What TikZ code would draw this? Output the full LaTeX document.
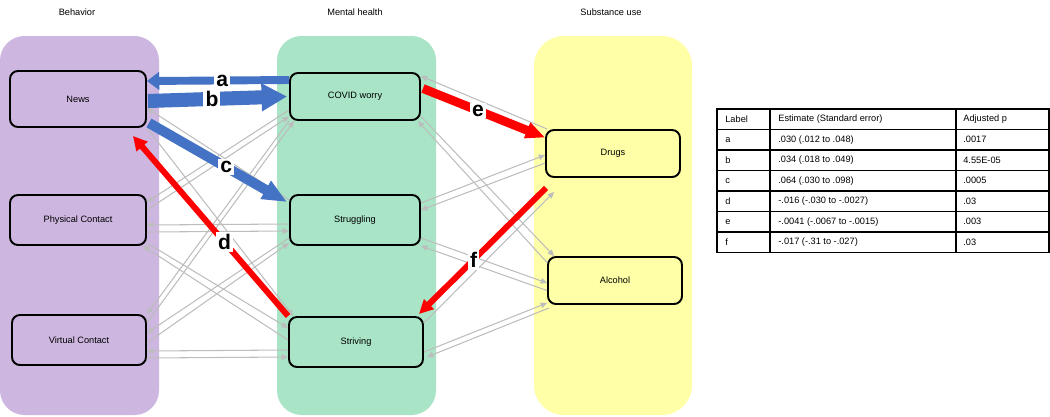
\documentclass[tikz,border=0pt]{standalone}
\usepackage{fontspec}
\setmainfont{Liberation Sans}
\usetikzlibrary{arrows.meta,calc}

\definecolor{behav}{HTML}{CDB6DF}
\definecolor{mental}{HTML}{A8E4C5}
\definecolor{subst}{HTML}{FFFFA8}
\definecolor{effblue}{HTML}{4472C4}
\definecolor{effred}{HTML}{FF0000}
\definecolor{linkgray}{HTML}{BDBDBD}

\tikzset{
  box/.style={draw, line width=1.1pt, rounded corners=4.5pt, inner sep=0pt,
    font=\fontsize{5.25}{6}\selectfont},
  head/.style={font=\fontsize{5.25}{6}\selectfont, inner sep=0pt},
  link/.style={draw=linkgray, line width=0.6pt, -{Triangle[length=3.6pt,width=3.2pt]}},
  lbl/.style={fill=white, text=black, inner sep=1.2pt, font=\fontsize{12}{14}\selectfont\bfseries},
  cell/.style={anchor=west, inner sep=0pt, font=\fontsize{5.25}{6}\selectfont}
}

\begin{document}
\begin{tikzpicture}[x=0.02cm,y=-0.02cm]
\useasboundingbox (0,0) rectangle (1050,416);

% columns
\fill[behav, rounded corners=14pt] (0,36) rectangle (159,415);
\fill[mental, rounded corners=14pt] (277,36) rectangle (436,415);
\fill[subst, rounded corners=17pt] (534,36) rectangle (692,415);
\node[head] (tbeh) at (77,12) {Behavior};
\node[head] (tmen) at (355,12) {Mental health};
\node[head] (tsub) at (611,12) {Substance use};

\node[box, fill=behav, minimum width=2.72cm, minimum height=1.12cm] (news) at (78,99) {News};
\node[box, fill=behav, minimum width=2.72cm, minimum height=1cm] (phys) at (78,220) {Physical Contact};
\node[box, fill=behav, minimum width=2.68cm, minimum height=1cm] (virt) at (79,340) {Virtual Contact};
\node[box, fill=mental, minimum width=2.6cm, minimum height=0.94cm] (covid) at (355,96.5) {COVID worry};
\node[box, fill=mental, minimum width=2.6cm, minimum height=1cm] (strug) at (355,220) {Struggling};
\node[box, fill=mental, minimum width=2.68cm, minimum height=1cm] (striv) at (356,342) {Striving};
\node[box, fill=subst, minimum width=2.68cm, minimum height=0.94cm] (drugs) at (613,153.5) {Drugs};
\node[box, fill=subst, minimum width=2.68cm, minimum height=0.94cm] (alco) at (615,280.5) {Alcohol};

% non significant paths
\draw[link] ($(strug.west)+(0,-20)$) -- ($(news.east)+(0,9)$);
\draw[link] (news.south east) -- ($(striv.north west)+(5,0)$);
\draw[link] ($(covid.west)+(0,13.5)$) -- ($(phys.east)+(0,-18)$);
\draw[link] ($(phys.east)+(0,-10)$) -- ($(covid.west)+(0,20)$);
\draw[link] (covid.south west) -- (virt.north east);
\draw[link] ($(virt.east)+(0,-17)$) -- ($(covid.south west)+(5,0)$);
\draw[link] ($(strug.west)+(0,18)$) -- ($(virt.east)+(0,-7)$);
\draw[link] ($(virt.east)+(0,3)$) -- ($(strug.west)+(0,23)$);
\draw[link] ($(striv.west)+(0,-2)$) -- ($(phys.south east)+(-4,0)$);
\draw[link] ($(phys.east)+(0,23)$) -- ($(striv.west)+(0,-14)$);
\draw[link] ($(strug.west)+(0,4)$) -- ($(phys.east)+(0,5)$);
\draw[link] ($(phys.east)+(0,12)$) -- ($(strug.west)+(0,11)$);
\draw[link] ($(striv.west)+(0,8)$) -- ($(virt.east)+(0,11)$);
\draw[link] ($(virt.east)+(0,18)$) -- ($(striv.west)+(0,15)$);

\draw[link] ($(drugs.north west)+(2,0)$) -- ($(covid.north east)+(0,4)$);
\draw[link] ($(covid.east)+(0,20)$) -- ($(alco.north west)+(7,0)$);
\draw[link] ($(alco.west)+(0,-18)$) -- ($(covid.south east)+(-3,0)$);
\draw[link] ($(strug.east)+(0,-17)$) -- ($(drugs.west)+(0,1.5)$);
\draw[link] ($(drugs.west)+(0,9.5)$) -- ($(strug.east)+(0,-10)$);
\draw[link] ($(strug.east)+(0,18)$) -- ($(alco.west)+(0,2.5)$);
\draw[link] ($(alco.west)+(0,10)$) -- (strug.south east);
\draw[link] ($(striv.east)+(0,-19)$) -- ($(drugs.south west)+(9,14)$);
\draw[link] ($(striv.east)+(0,10)$) -- ($(alco.south west)+(0,-2)$);
\draw[link] ($(alco.south west)+(2,3)$) -- ($(striv.east)+(3,15)$);

% significant paths
\draw[effblue, line width=4.5pt, -{Triangle[length=7pt,width=10pt]}]
  ($(covid.west)+(0,-16.5)$) -- node[lbl, pos=0.47] {a} ($(news.east)+(0,-18)$);
\draw[effblue, line width=8pt, -{Triangle[length=14.5pt,width=15pt]}]
  ($(news.east)+(1,2)$) -- node[lbl, pos=0.46] {b} ($(covid.west)+(-2,0)$);
\draw[effblue, line width=5.7pt, -{Triangle[length=14pt,width=11pt]}]
  ($(news.south east)+(2,-5)$) -- node[lbl, pos=0.56] {c} ($(strug.north west)+(-2,8)$);
\draw[effred, line width=3.4pt, -{Triangle[length=8pt,width=8pt]}]
  (striv.north west) -- node[lbl, pos=0.41] {d} ($(news.south east)+(-14,8)$);
\draw[effred, line width=5pt, -{Triangle[length=11pt,width=9pt]}]
  ($(covid.east)+(2,-8)$) -- node[lbl, pos=0.45] {e} ($(drugs.west)+(0,-16)$);
\draw[effred, line width=3.4pt, -{Triangle[length=8pt,width=7.5pt]}]
  ($(drugs.south west)+(1,10)$) -- node[lbl, pos=0.57] {f} ($(striv.north east)+(-5,-2)$);

% table
\draw[line width=0.6pt] (717,109) rectangle (1049,252.5);
\foreach \r in {1,...,6}
  \draw[line width=0.6pt] (717,{109+20.5*\r}) -- (1049,{109+20.5*\r});
\draw[line width=0.6pt] (770,109) -- (770,252.5);
\draw[line width=0.6pt] (956,109) -- (956,252.5);
\node[cell] (hlab) at (725,119.25) {Label};
\node[cell] (hest) at (778,119.25) {Estimate (Standard error)};
\node[cell] (hadj) at (963,119.25) {Adjusted p};
\foreach \lab/\est/\adj [count=\i] in {a/.030 (.012 to .048)/.0017, b/.034 (.018 to .049)/4.55E-05,
    c/.064 (.030 to .098)/.0005, d/-.016 (-.030 to -.0027)/.03,
    e/-.0041 (-.0067 to -.0015)/.003, f/-.017 (-.31 to -.027)/.03} {
  \node[cell] (lab\i) at (725,{119.25+20.5*\i}) {\lab};
  \node[cell] (est\i) at (778,{119.25+20.5*\i}) {\est};
  \node[cell] (adj\i) at (963,{119.25+20.5*\i}) {\adj};
}
\end{tikzpicture}
\end{document}
